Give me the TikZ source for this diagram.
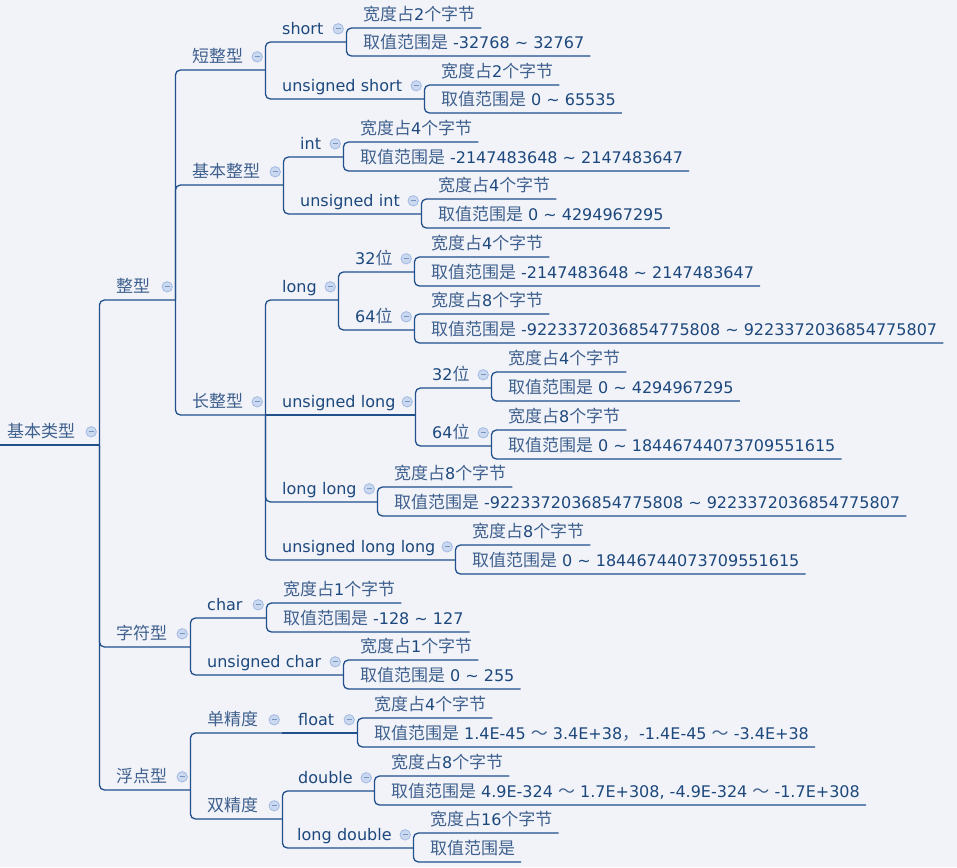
\documentclass[tikz,border=0pt]{standalone}
\usepackage{fontspec}
\setmainfont{DejaVu Sans}
\newfontfamily\zhfont{Noto Sans CJK SC}[Scale=1.06]
\usepackage{xcolor}
\usepackage{tikz}

\definecolor{bgcol}{RGB}{242,243,248}
\definecolor{txtcol}{RGB}{28,72,125}
\definecolor{zhcol}{RGB}{62,96,142}
\definecolor{linecol}{RGB}{33,80,140}
\definecolor{iconfill}{RGB}{203,217,240}
\definecolor{icondraw}{RGB}{160,185,226}
\definecolor{iconbar}{RGB}{120,148,192}
\newcommand\zh[1]{{\zhfont\color{zhcol}#1}}

\tikzset{
  pad/.store in=\padlen, pad=17pt,
  topic/.style={anchor=south west, inner sep=0pt, text height=12pt, text depth=7pt,
    font=\fontsize{16}{19}\selectfont, text=txtcol,
    execute at begin node={\hspace*{\padlen}}},
  branch/.style={topic, text width=#1, align=left},
  leaf/.style={topic, execute at end node={\hspace*{6pt}}},
  fold/.style={path picture={
    \path[fill=iconfill, draw=icondraw, line width=0.8pt]
      ([xshift=-8pt,yshift=13pt]path picture bounding box.south east) circle (5.2pt);
    \draw[iconbar, line width=0.9pt]
      ([xshift=-10.5pt,yshift=13pt]path picture bounding box.south east) --
      ([xshift=-5.5pt,yshift=13pt]path picture bounding box.south east);}},
  link/.style={draw=linecol, line width=1.3pt, rounded corners=5pt}
}

\begin{document}
\begin{tikzpicture}[x=1pt, y=-1pt]
\fill[bgcol] (0,0) rectangle (957,867);
\useasboundingbox (0,0) rectangle (957,867);

% --- root and first level ---
\node[branch=99pt, pad=7pt, fold] (basic) at (0,445) {\zh{基本类型}};
\node[branch=76pt, fold] (integer)  at (99,300) {\zh{整型}};
\node[branch=91pt, fold] (chartype) at (99,647) {\zh{字符型}};
\node[branch=91pt, fold] (floattype) at (99,790) {\zh{浮点型}};

% --- integer kinds ---
\node[branch=90pt, fold]  (shortint) at (175,70)  {\zh{短整型}};
\node[branch=108pt, fold] (basicint) at (175,185) {\zh{基本整型}};
\node[branch=90pt, fold]  (longint)  at (175,415) {\zh{长整型}};

\node[branch=81pt, fold]  (short)  at (265,42)  {short};
\node[branch=159pt, fold] (ushort) at (265,99)  {unsigned short};
\node[branch=60pt, fold]  (int)    at (283,157) {int};
\node[branch=138pt, fold] (uint)   at (283,214) {unsigned int};
\node[branch=73pt, fold]  (long)   at (265,300) {long};
\node[branch=150pt, fold] (ulong)  at (265,415) {unsigned long};
\node[branch=112pt, fold] (llong)  at (265,502) {long long};
\node[branch=190pt, fold] (ullong) at (265,560) {unsigned long long};

\node[branch=76pt, fold] (long32)  at (338,272) {32\zh{位}};
\node[branch=76pt, fold] (long64)  at (338,330) {64\zh{位}};
\node[branch=76pt, fold] (ulong32) at (415,388) {32\zh{位}};
\node[branch=76pt, fold] (ulong64) at (415,446) {64\zh{位}};

% --- char and floating point kinds ---
\node[branch=76pt, fold]  (char)   at (190,618) {char};
\node[branch=153pt, fold] (uchar)  at (190,675) {unsigned char};
\node[branch=92pt, fold]  (single) at (190,733) {\zh{单精度}};
\node[branch=92pt, fold]  (dbl)    at (190,819) {\zh{双精度}};
\node[branch=75pt, pad=16pt, fold]  (float)  at (282,733) {float};
\node[branch=92pt, pad=16pt, fold]  (double) at (282,791) {double};
\node[branch=131pt, pad=15pt, fold] (ldouble) at (282,848) {long double};

% --- leaves: width and range ---
\node[leaf] (short-w)   at (346,28)  {\zh{宽度占}2\zh{个字节}};
\node[leaf] (short-r)   at (346,56)  {\zh{取值范围是} -32768 \textasciitilde{} 32767};
\node[leaf] (ushort-w)  at (424,85)  {\zh{宽度占}2\zh{个字节}};
\node[leaf] (ushort-r)  at (424,113) {\zh{取值范围是} 0 \textasciitilde{} 65535};
\node[leaf] (int-w)     at (343,142) {\zh{宽度占}4\zh{个字节}};
\node[leaf] (int-r)     at (343,171) {\zh{取值范围是} -2147483648 \textasciitilde{} 2147483647};
\node[leaf] (uint-w)    at (421,199) {\zh{宽度占}4\zh{个字节}};
\node[leaf] (uint-r)    at (421,228) {\zh{取值范围是} 0 \textasciitilde{} 4294967295};
\node[leaf] (long32-w)  at (414,257) {\zh{宽度占}4\zh{个字节}};
\node[leaf] (long32-r)  at (414,286) {\zh{取值范围是} -2147483648 \textasciitilde{} 2147483647};
\node[leaf] (long64-w)  at (414,314) {\zh{宽度占}8\zh{个字节}};
\node[leaf] (long64-r)  at (414,343) {\zh{取值范围是} -9223372036854775808 \textasciitilde{} 9223372036854775807};
\node[leaf] (ulong32-w) at (491,372) {\zh{宽度占}4\zh{个字节}};
\node[leaf] (ulong32-r) at (491,401) {\zh{取值范围是} 0 \textasciitilde{} 4294967295};
\node[leaf] (ulong64-w) at (491,430) {\zh{宽度占}8\zh{个字节}};
\node[leaf] (ulong64-r) at (491,459) {\zh{取值范围是} 0 \textasciitilde{} 18446744073709551615};
\node[leaf] (llong-w)   at (377,487) {\zh{宽度占}8\zh{个字节}};
\node[leaf] (llong-r)   at (377,516) {\zh{取值范围是} -9223372036854775808 \textasciitilde{} 9223372036854775807};
\node[leaf] (ullong-w)  at (455,545) {\zh{宽度占}8\zh{个字节}};
\node[leaf] (ullong-r)  at (455,574) {\zh{取值范围是} 0 \textasciitilde{} 18446744073709551615};
\node[leaf] (char-w)    at (266,603) {\zh{宽度占}1\zh{个字节}};
\node[leaf] (char-r)    at (266,632) {\zh{取值范围是} -128 \textasciitilde{} 127};
\node[leaf] (uchar-w)   at (343,660) {\zh{宽度占}1\zh{个字节}};
\node[leaf] (uchar-r)   at (343,689) {\zh{取值范围是} 0 \textasciitilde{} 255};
\node[leaf] (float-w)   at (357,718) {\zh{宽度占}4\zh{个字节}};
\node[leaf] (float-r)   at (357,747) {\zh{取值范围是} 1.4E-45 \zh{～} 3.4E+38\zh{，}-1.4E-45 \zh{～} -3.4E+38};
\node[leaf] (double-w)  at (374,776) {\zh{宽度占}8\zh{个字节}};
\node[leaf] (double-r)  at (374,805) {\zh{取值范围是} 4.9E-324 \zh{～} 1.7E+308, -4.9E-324 \zh{～} -1.7E+308};
\node[leaf] (ldouble-w) at (413,833) {\zh{宽度占}16\zh{个字节}};
\node[leaf] (ldouble-r) at (413,862) {\zh{取值范围是}};

% --- connectors ---
\draw[link] (basic.south west) -- (basic.south east);
\foreach \n in {integer,chartype,floattype}
  \draw[link] (basic.south east) |- (\n.south east);
\foreach \n in {shortint,basicint,longint}
  \draw[link] (integer.south east) |- (\n.south east);
\foreach \n in {short,ushort}
  \draw[link] (shortint.south east) |- (\n.south east);
\foreach \n in {int,uint}
  \draw[link] (basicint.south east) |- (\n.south east);
\foreach \n in {long,llong,ullong}
  \draw[link] (longint.south east) |- (\n.south east);
\draw[link] (longint.south east) -- (ulong.south east);
\foreach \n in {long32,long64}
  \draw[link] (long.south east) |- (\n.south east);
\foreach \n in {ulong32,ulong64}
  \draw[link] (ulong.south east) |- (\n.south east);
\foreach \n in {char,uchar}
  \draw[link] (chartype.south east) |- (\n.south east);
\foreach \n in {single,dbl}
  \draw[link] (floattype.south east) |- (\n.south east);
\draw[link] (single.south east) -- (float.south east);
\foreach \n in {double,ldouble}
  \draw[link] (dbl.south east) |- (\n.south east);
% leaves
\foreach \p in {short,ushort,int,uint,long32,long64,ulong32,ulong64,llong,ullong,char,uchar,float,double,ldouble} {
  \draw[link] (\p.south east) |- (\p-w.south east);
  \draw[link] (\p.south east) |- (\p-r.south east);
}

\end{tikzpicture}
\end{document}
